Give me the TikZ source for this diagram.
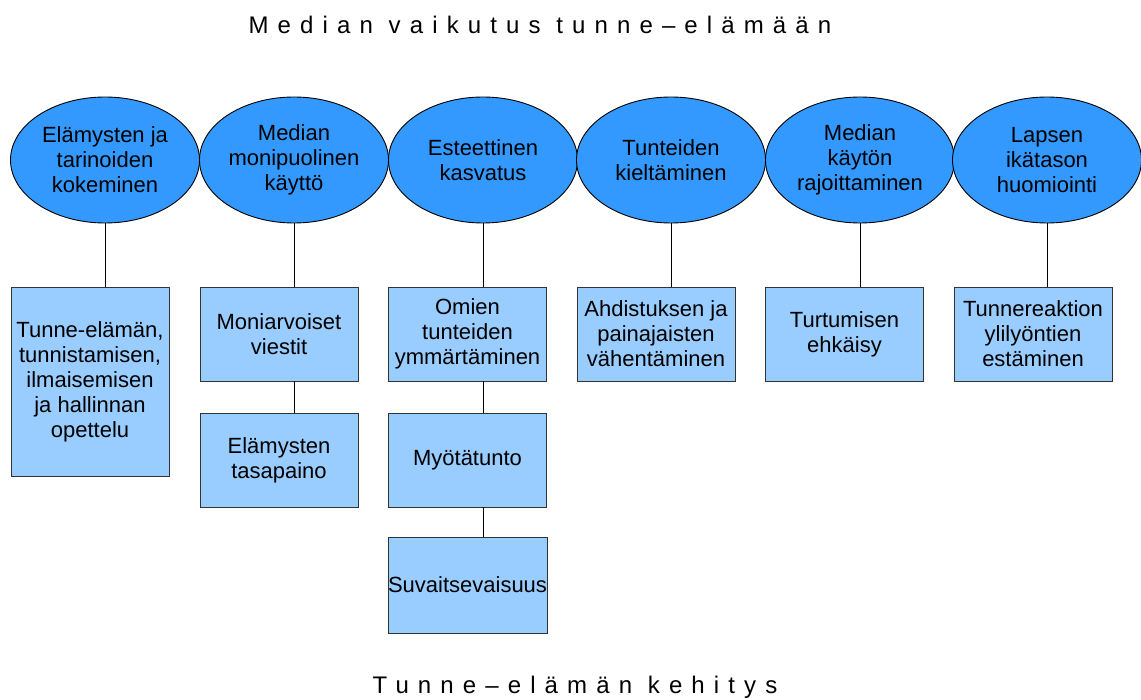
\documentclass[tikz,border=0pt]{standalone}
\usepackage{fontspec}
\setmainfont{Liberation Sans}
\usetikzlibrary{shapes.geometric}
\definecolor{ellblue}{HTML}{3399FF}
\definecolor{boxblue}{HTML}{99CCFF}
\begin{document}
\begin{tikzpicture}[x=1pt,y=-1pt,
  topic/.style={ellipse,draw=black,line width=0.9pt,fill=ellblue,minimum width=189pt,minimum height=126pt,inner sep=0pt,align=center,font=\fontsize{22}{25}\selectfont},
  leaf/.style={rectangle,draw=black!80,line width=0.9pt,fill=boxblue,minimum width=158pt,minimum height=94pt,inner sep=0pt,align=center,font=\fontsize{22}{25}\selectfont},
  link/.style={draw=black,line width=0.8pt},
  heading/.style={font=\fontsize{24}{28}\selectfont\addfontfeature{LetterSpace=38},inner sep=0pt,anchor=base}]
\useasboundingbox (0,0) rectangle (1141,700);
\node[heading] (title) at (540,34) {Median vaikutus tunne–elämään};
\node[heading] (foot) at (575,693) {Tunne–elämän kehitys};

\node[topic] (e1) at (105,160) {Elämysten ja\\tarinoiden\\kokeminen};
\node[topic] (e2) at (294,160) {Median\\monipuolinen\\käyttö};
\node[topic] (e3) at (483,160) {Esteettinen\\kasvatus};
\node[topic] (e4) at (671,160) {Tunteiden\\kieltäminen};
\node[topic] (e5) at (860,160) {Median\\käytön\\rajoittaminen};
\node[topic] (e6) at (1047,160) {Lapsen\\ikätason\\huomiointi};

\node[leaf,minimum height=189pt] (b1) at (90,381.5) {Tunne-elämän,\\tunnistamisen,\\ilmaisemisen\\ja hallinnan\\opettelu};
\node[leaf] (b2) at (279,334) {Moniarvoiset\\viestit};
\node[leaf] (b2b) at (279,460) {Elämysten\\tasapaino};
\node[leaf] (b3) at (467.5,334) {Omien\\tunteiden\\ymmärtäminen};
\node[leaf] (b3b) at (467.5,460) {Myötätunto};
\node[leaf,minimum height=96pt] (b3c) at (467.5,585) {Suvaitsevaisuus};
\node[leaf] (b4) at (656,334) {Ahdistuksen ja\\painajaisten\\vähentäminen};
\node[leaf] (b5) at (844.5,334) {Turtumisen\\ehkäisy};
\node[leaf] (b6) at (1033,334) {Tunnereaktion\\ylilyöntien\\estäminen};

\foreach \e/\b in {e1/b1,e2/b2,e3/b3,e4/b4,e5/b5,e6/b6}
  \draw[link] (\e.south) -- (\e.south |- \b.north);
\draw[link] (e2.south |- b2.south) -- (e2.south |- b2b.north);
\draw[link] (e3.south |- b3.south) -- (e3.south |- b3b.north);
\draw[link] (e3.south |- b3b.south) -- (e3.south |- b3c.north);
\end{tikzpicture}
\end{document}
